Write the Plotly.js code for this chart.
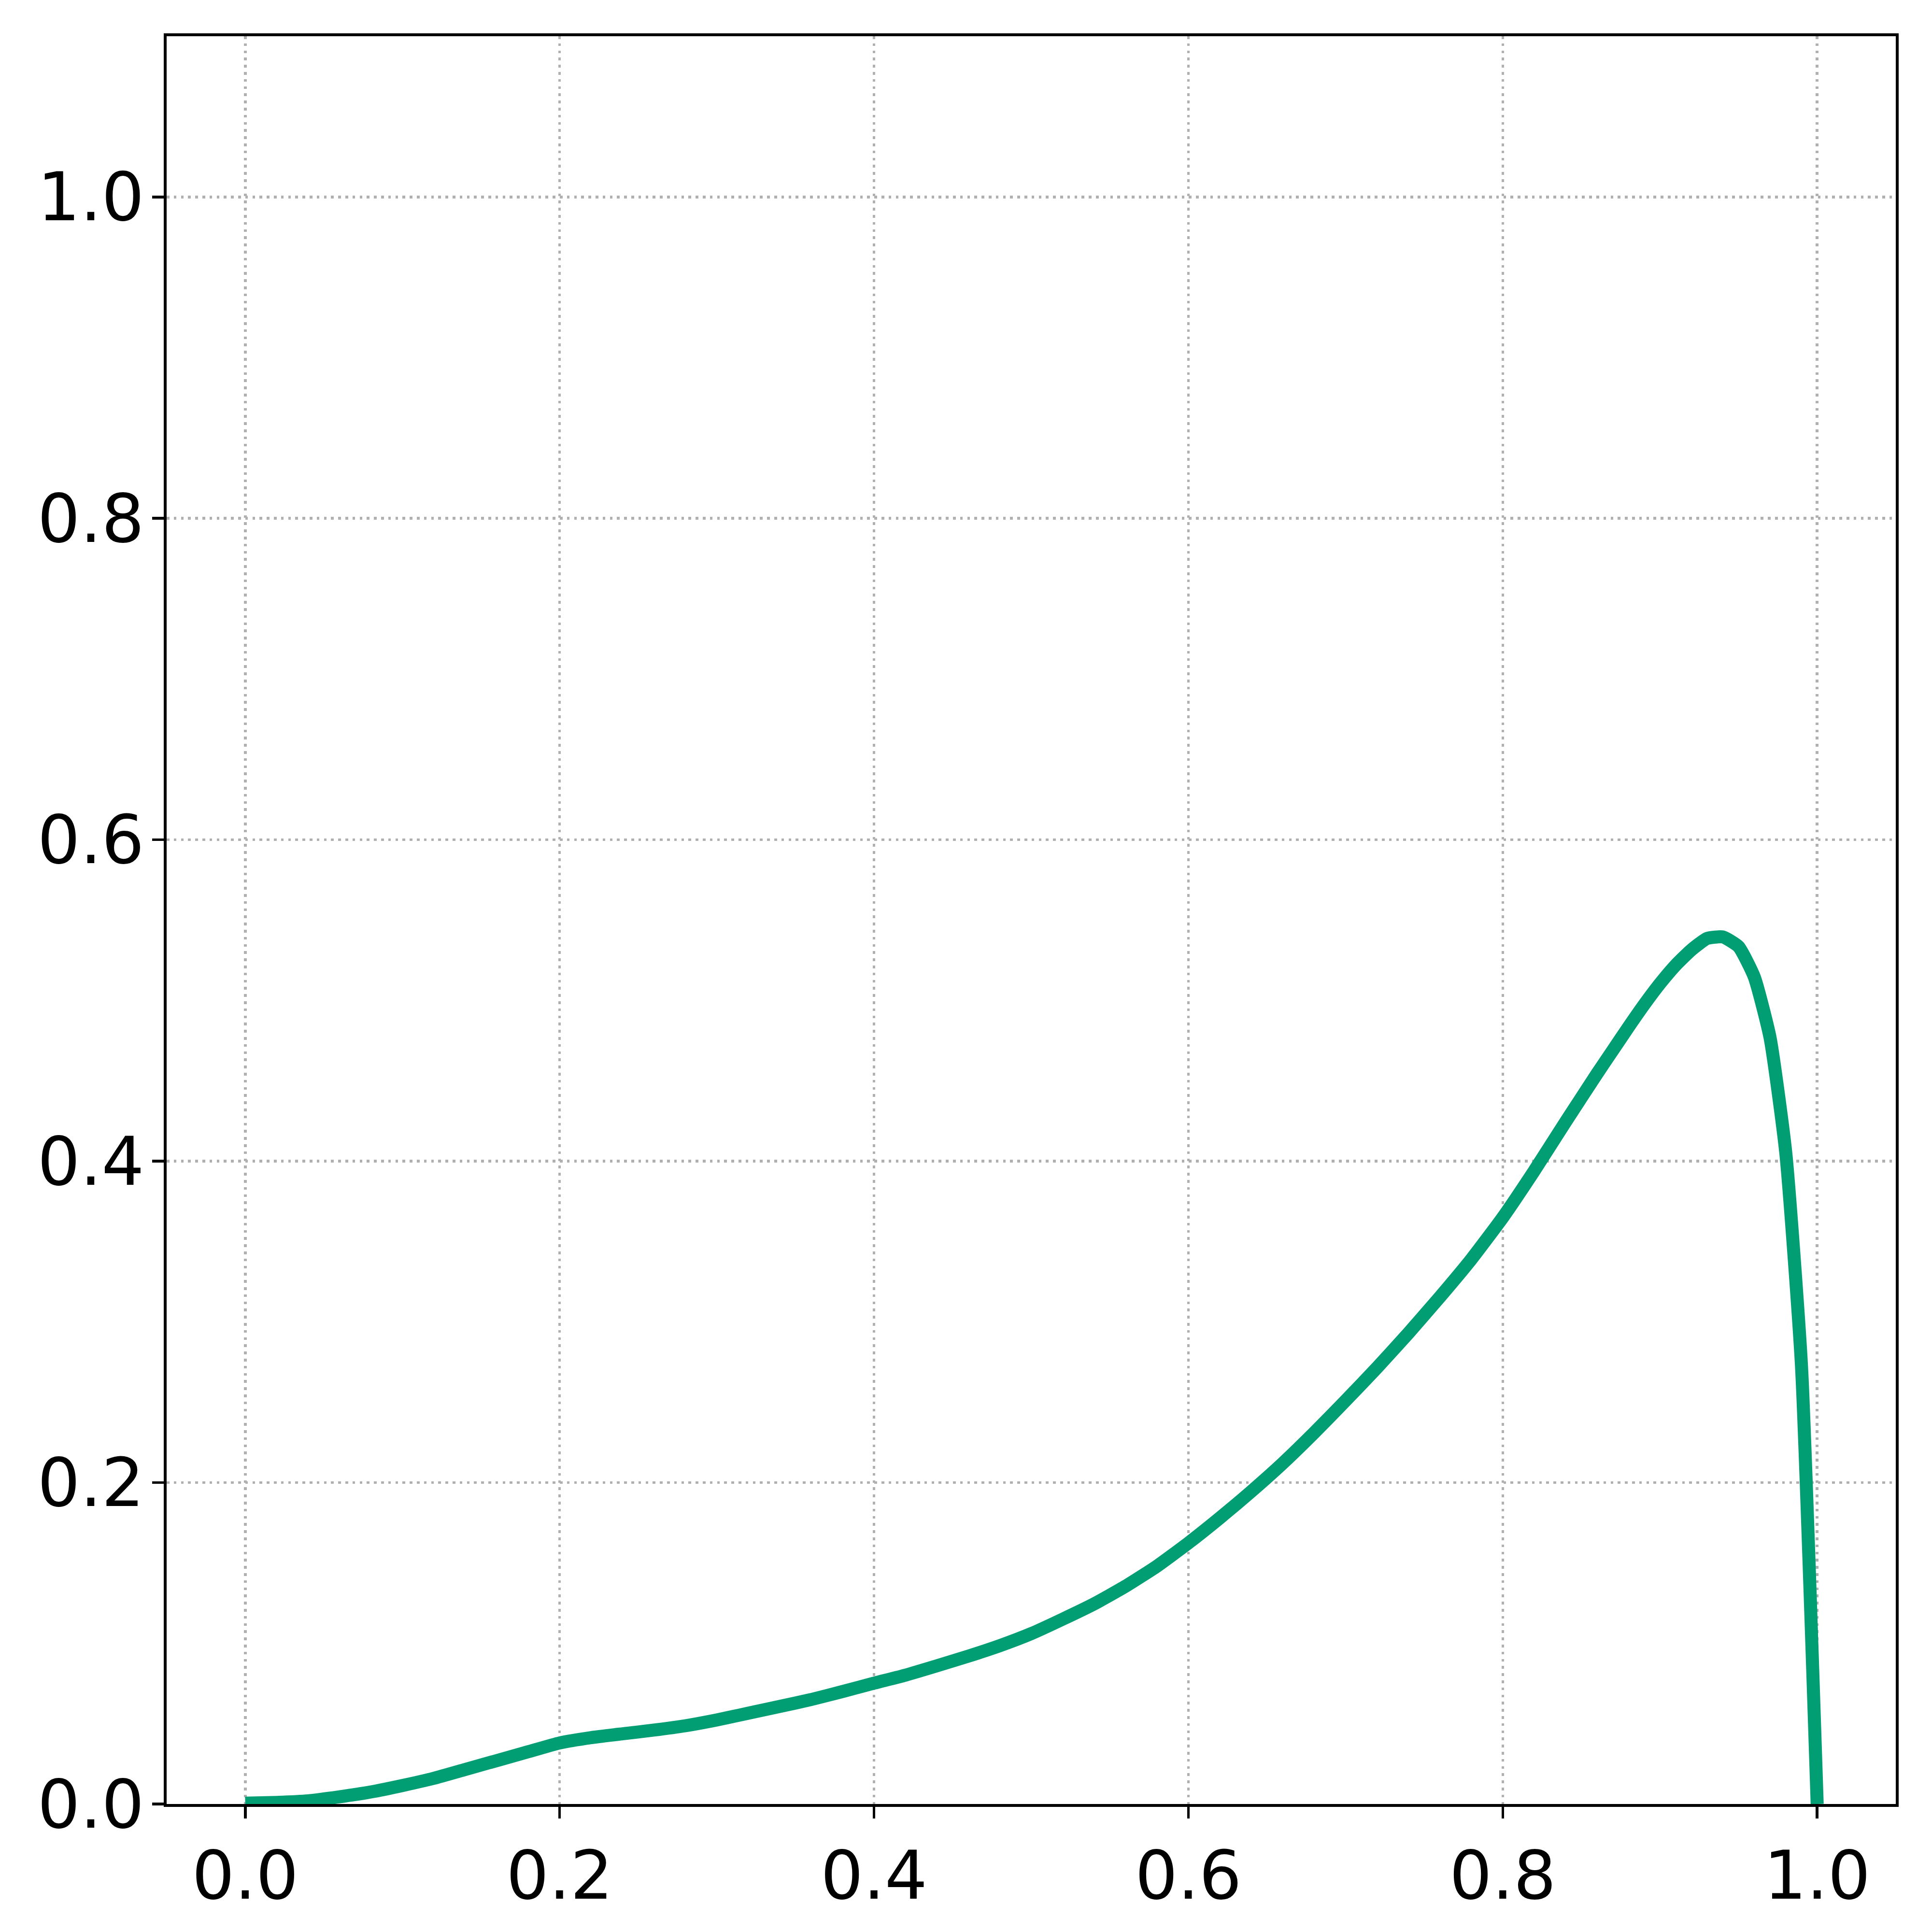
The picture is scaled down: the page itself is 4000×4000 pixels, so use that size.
<!DOCTYPE html>
<html>
<head>
<meta charset="utf-8">
<script src="https://cdn.plot.ly/plotly-3.0.1.min.js"></script>
<style>
  html, body { margin: 0; padding: 0; background: #ffffff; }
  #chart { width: 4000px; height: 4000px; }
</style>
</head>
<body>
<div id="chart"></div>
<script>
// density curve
const xs = [
  0.00, 0.02, 0.04, 0.06, 0.08, 0.10, 0.12, 0.14, 0.16, 0.18,
  0.20, 0.22, 0.24, 0.26, 0.28, 0.30, 0.32, 0.34, 0.36, 0.38,
  0.40, 0.42, 0.44, 0.46, 0.48, 0.50, 0.52, 0.54, 0.56, 0.58,
  0.60, 0.62, 0.64, 0.66, 0.68, 0.70, 0.72, 0.74, 0.76, 0.78,
  0.80, 0.82, 0.84, 0.86, 0.87, 0.88, 0.89, 0.90, 0.91, 0.92,
  0.93, 0.94, 0.95, 0.96, 0.97, 0.98, 0.99, 1.00,
];
const ys = [
  0.0005, 0.001, 0.002, 0.0045, 0.0075, 0.0115, 0.016, 0.0215, 0.027, 0.0325,
  0.038, 0.0413, 0.0437, 0.046, 0.0487, 0.0523, 0.0565, 0.0607, 0.065, 0.070,
  0.0752, 0.0802, 0.086, 0.092, 0.0985, 0.106, 0.115, 0.1245, 0.1355, 0.148,
  0.1624, 0.178, 0.1945, 0.212, 0.231, 0.251, 0.2715, 0.293, 0.3155, 0.339,
  0.365, 0.394, 0.4245, 0.4545, 0.469, 0.4835, 0.4975, 0.5105, 0.522, 0.5315,
  0.5386, 0.5395, 0.5335, 0.5146, 0.477, 0.4055, 0.273, 0.0,
];

const xTicks = [0.0, 0.2, 0.4, 0.6, 0.8, 1.0];
const yTicks = [0.0, 0.2, 0.4, 0.6, 0.8, 1.0];

const LINE_COLOR = "#029e73";
const GRID_COLOR = "#b0b0b0";
const FONT = "DejaVu Sans, sans-serif";

const axisBase = {
  showline: true,
  mirror: true,
  linecolor: "#000000",
  linewidth: 5.6,
  ticks: "outside",
  ticklen: 24,
  tickwidth: 5.6,
  tickcolor: "#000000",
  tickfont: { family: FONT, size: 139, color: "#000000" },
  showgrid: true,
  gridcolor: GRID_COLOR,
  gridwidth: 5.6,
  griddash: "5.6px,9.2px",
  zeroline: false,
  tickmode: "array",
};

const trace = {
  x: xs,
  y: ys,
  type: "scatter",
  mode: "lines",
  line: { color: LINE_COLOR, width: 27, shape: "spline", smoothing: 0.5 },
  hoverinfo: "skip",
};

const layout = {
  width: 4000,
  height: 4000,
  paper_bgcolor: "#ffffff",
  plot_bgcolor: "#ffffff",
  margin: { l: 345, r: 75, t: 75, b: 265, pad: 0 },
  showlegend: false,
  xaxis: {
    ...axisBase,
    range: [-0.05, 1.05],
    tickvals: xTicks,
    ticktext: xTicks.map((v) => v.toFixed(1)),
  },
  yaxis: {
    ...axisBase,
    range: [0, 1.1],
    tickvals: yTicks,
    ticktext: yTicks.map((v) => v.toFixed(1)),
    ticklabelstandoff: -11,
  },
};

Plotly.newPlot("chart", [trace], layout, { displayModeBar: false, staticPlot: true });
</script>
</body>
</html>
